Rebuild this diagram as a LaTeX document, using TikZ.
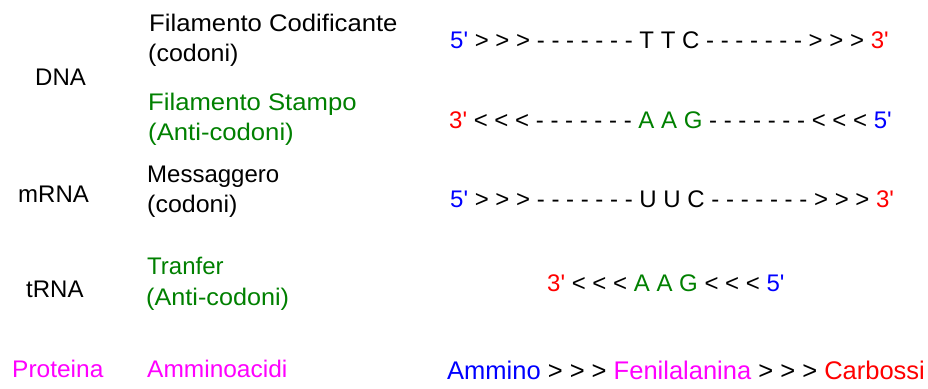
\documentclass[tikz,border=0pt]{standalone}
\usepackage{fontspec}
\setmainfont{Liberation Sans}
\definecolor{cblue}{RGB}{0,0,255}
\definecolor{cred}{RGB}{255,0,0}
\definecolor{cgreen}{RGB}{0,128,0}
\definecolor{cmag}{RGB}{255,0,255}
\newcommand{\qs}{\textquotesingle}
\begin{document}
\begin{tikzpicture}[x=1pt,y=-1pt,
  txt/.style={anchor=base west, inner sep=0pt, font=\fontsize{24}{28}\selectfont},
  wide/.style={txt, xscale=1.07},
  big/.style={anchor=base west, inner sep=0pt, font=\fontsize{25.5}{30}\selectfont}]
\useasboundingbox (0,0) rectangle (928,388);
% left column
\node[txt] (dna) at (35,85) {DNA};
\node[txt] (mrna) at (18,202) {mRNA};
\node[txt] (trna) at (26,297) {tRNA};
\node[txt, text=cmag, xscale=1.02] (prot) at (12,377) {Proteina};
% middle column
\node[wide] (cod1) at (149,31) {Filamento Codificante};
\node[txt, xscale=1.04] (cod1b) at (148,61) {(codoni)};
\node[wide, text=cgreen] (stamp) at (148,110) {Filamento Stampo};
\node[wide, text=cgreen] (stampb) at (148,140) {(Anti-codoni)};
\node[txt] (mess) at (147,182) {Messaggero};
\node[txt, xscale=1.04] (messb) at (147,212) {(codoni)};
\node[txt, text=cgreen] (tranf) at (147,274) {Tranfer};
\node[txt, text=cgreen, xscale=1.05] (tranfb) at (146,305) {(Anti-codoni)};
\node[txt, text=cmag, xscale=1.02] (amm) at (147,377) {Amminoacidi};
% sequences
\node[txt] (seq1) at (450,48) {\textcolor{cblue}{5\qs} > > > - - - - - - - T T C - - - - - - - > > > \textcolor{cred}{3\qs}};
\node[txt] (seq2) at (449,128) {\textcolor{cred}{3\qs} < < < - - - - - - - \textcolor{cgreen}{A A G} - - - - - - - < < < \textcolor{cblue}{5\qs}};
\node[txt] (seq3) at (450,207) {\textcolor{cblue}{5\qs} > > > - - - - - - - U U C - - - - - - - > > > \textcolor{cred}{3\qs}};
\node[txt] (seq4) at (547,291) {\textcolor{cred}{3\qs} < < < \textcolor{cgreen}{A A G} < < < \textcolor{cblue}{5\qs}};
\node[big] (seq5) at (447,379) {\textcolor{cblue}{Ammino} > > > \textcolor{cmag}{Fenilalanina} > > > \textcolor{cred}{Carbossi}};
\end{tikzpicture}
\end{document}
